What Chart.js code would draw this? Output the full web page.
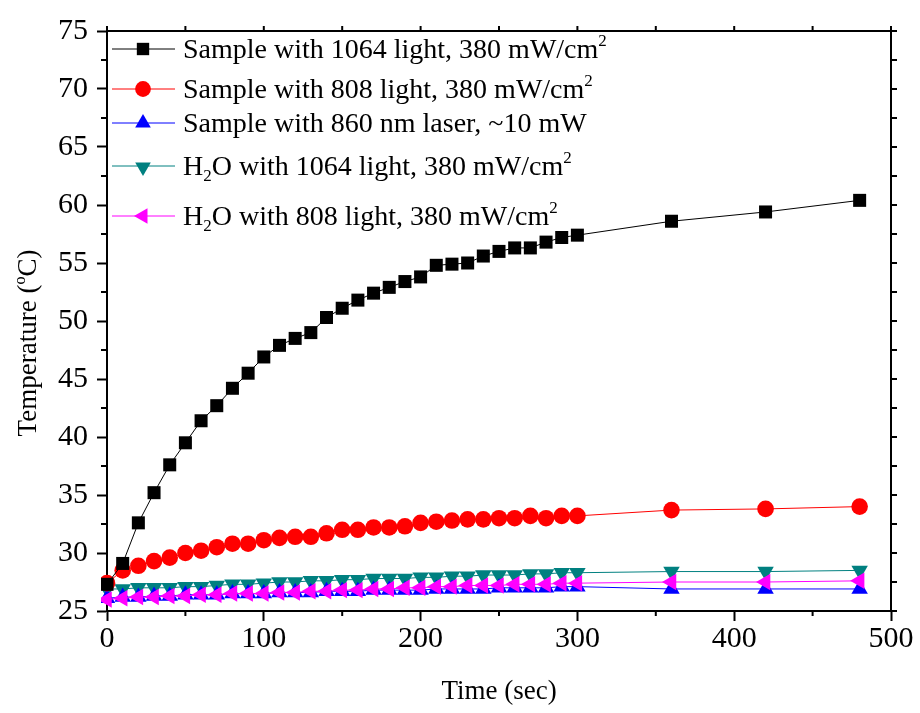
<!DOCTYPE html>
<html><head><meta charset="utf-8">
<script src="https://cdn.jsdelivr.net/npm/chart.js@4.4.1/dist/chart.umd.min.js"></script>
<style>html,body{margin:0;padding:0;background:#fff;}</style>
</head><body>
<canvas id="c" width="920" height="713" style="width:920px;height:713px;display:block"></canvas>
<script>
// ---- data ----
const times = [0,10,20,30,40,50,60,70,80,90,100,110,120,130,140,150,160,170,180,190,200,210,220,230,240,250,260,270,280,290,300,360,420,480];
const sample1064 = [27.3,29.1,32.6,35.2,37.6,39.5,41.4,42.7,44.2,45.5,46.9,47.9,48.5,49.0,50.3,51.1,51.8,52.4,52.9,53.4,53.8,54.8,54.9,55.0,55.6,56.0,56.3,56.3,56.8,57.2,57.4,58.6,59.4,60.4];
const sample808 = [27.4,28.5,28.9,29.3,29.6,30.0,30.2,30.5,30.8,30.8,31.1,31.3,31.4,31.4,31.7,32.0,32.0,32.2,32.2,32.3,32.6,32.7,32.8,32.9,32.9,33.0,33.0,33.2,33.0,33.2,33.2,33.7,33.8,34.0];
const sample860 = [26.1,26.2,26.2,26.3,26.3,26.4,26.4,26.4,26.5,26.5,26.5,26.6,26.6,26.6,26.7,26.7,26.7,26.8,26.8,26.8,26.8,26.9,26.9,26.9,26.9,27.0,27.0,27.0,27.0,27.1,27.1,26.9,26.9,26.9];
const water1064 = [26.9,26.9,27.0,27.0,27.0,27.1,27.1,27.2,27.3,27.3,27.4,27.5,27.5,27.6,27.6,27.7,27.7,27.8,27.8,27.8,27.9,27.9,28.0,28.0,28.1,28.1,28.1,28.2,28.2,28.3,28.3,28.4,28.4,28.5];
const water808 = [26.0,26.1,26.2,26.2,26.3,26.3,26.4,26.4,26.5,26.5,26.5,26.6,26.6,26.7,26.7,26.8,26.8,26.9,26.9,27.0,27.0,27.1,27.1,27.2,27.2,27.2,27.3,27.3,27.3,27.4,27.4,27.5,27.5,27.6];
const xTickLabels = ['0','100','200','300','400','500'];
const yTickLabels = ['25','30','35','40','45','50','55','60','65','70','75'];
const legendLabels = [
  [{t:'Sample with 1064 light, 380 mW/cm'},{t:'2',sup:true}],
  [{t:'Sample with 808 light, 380 mW/cm'},{t:'2',sup:true}],
  [{t:'Sample with 860 nm laser, ~10 mW'}],
  [{t:'H'},{t:'2',sub:true},{t:'O with 1064 light, 380 mW/cm'},{t:'2',sup:true}],
  [{t:'H'},{t:'2',sub:true},{t:'O with 808 light, 380 mW/cm'},{t:'2',sup:true}]
];
const xTitle = 'Time (sec)';
const yTitle = [{t:'Temperature ('},{t:'o',sup:true},{t:'C)'}];

const FONT = '"Liberation Serif","Times New Roman",serif';
const pts = arr => times.map((t,i)=>({x:t,y:arr[i]}));

function ds(label, arr, color, style, radius, rot, order){
  return {label, data: pts(arr), borderColor: color, backgroundColor: color,
    borderWidth: 1, pointStyle: style, pointRadius: radius, pointHoverRadius: radius,
    pointRotation: rot, pointBorderWidth: 0, showLine: true, tension: 0, order, clip: 6};
}
const datasets = [
  ds('s1064', sample1064, '#000000', 'rect', 9.2, 0, 0),
  ds('s808', sample808, '#ff0000', 'circle', 8.3, 0, 1),
  ds('s860', sample860, '#0000ff', 'triangle', 9.5, 0, 3),
  ds('w1064', water1064, '#008080', 'triangle', 9.5, 180, 4),
  ds('w808', water808, '#ff00ff', 'triangle', 9.5, 270, 2)
];

function richWidth(ctx, segs, size){
  let w=0;
  for(const s of segs){
    ctx.font = ((s.sup||s.sub)? Math.round(size*0.6) : size) + 'px ' + FONT;
    w += ctx.measureText(s.t).width;
  }
  return w;
}
function drawRich(ctx, segs, x, yMid, size){
  const base = yMid + size*0.33;
  ctx.textBaseline = 'alphabetic';
  ctx.textAlign = 'left';
  let cx = x;
  for(const s of segs){
    let fs = size, dy = 0;
    if(s.sup){ fs = Math.round(size*0.6); dy = -size*0.42; }
    if(s.sub){ fs = Math.round(size*0.6); dy = size*0.22; }
    ctx.font = fs + 'px ' + FONT;
    ctx.fillText(s.t, cx, base+dy);
    cx += ctx.measureText(s.t).width;
  }
}

const decor = {
  id:'decor',
  afterDraw(chart){
    const ctx = chart.ctx, a = chart.chartArea;
    const xs = chart.scales.x, ys = chart.scales.y;
    ctx.save();
    ctx.strokeStyle = '#000'; ctx.lineWidth = 2;
    // frame top/right
    ctx.beginPath();
    ctx.moveTo(a.left-1, a.top); ctx.lineTo(a.right, a.top); ctx.lineTo(a.right, a.bottom+1);
    ctx.stroke();
    // minor ticks bottom / top ticks
    ctx.beginPath();
    for(let v=50; v<500; v+=100){
      const px = xs.getPixelForValue(v);
      ctx.moveTo(px, a.bottom); ctx.lineTo(px, a.bottom+5);
    }
    for(let v=0; v<=500; v+=50){
      const px = xs.getPixelForValue(v);
      ctx.moveTo(px, a.top); ctx.lineTo(px, a.top-5);
    }
    for(let v=27.5; v<75; v+=5){
      const py = ys.getPixelForValue(v);
      ctx.moveTo(a.left, py); ctx.lineTo(a.left-6, py);
    }
    for(let v=25; v<=75; v+=2.5){
      const py = ys.getPixelForValue(v);
      ctx.moveTo(a.right, py); ctx.lineTo(a.right+6, py);
    }
    ctx.stroke();
    // legend
    const rows = [49, 89, 123, 166, 216];
    chart.data.datasets.forEach((d,k)=>{
      const y = rows[k];
      ctx.strokeStyle = d.borderColor; ctx.lineWidth = 1;
      ctx.beginPath(); ctx.moveTo(112, y); ctx.lineTo(175, y); ctx.stroke();
      ctx.fillStyle = d.backgroundColor;
      Chart.helpers.drawPoint(ctx, {pointStyle:d.pointStyle, rotation:d.pointRotation, radius:d.pointRadius*0.95, borderWidth:0}, 143, y + (d.pointRotation===180?1:0));
      ctx.fillStyle = '#000';
      drawRich(ctx, legendLabels[k], 183, y, 28);
    });
    // y title
    ctx.save();
    ctx.translate(27, 343);
    ctx.rotate(-Math.PI/2);
    ctx.fillStyle = '#000';
    const w = richWidth(ctx, yTitle, 27);
    drawRich(ctx, yTitle, -w/2, 0, 27);
    ctx.restore();
    ctx.restore();
  }
};

new Chart(document.getElementById('c'), {
  type:'scatter',
  data:{datasets},
  options:{
    responsive:false, animation:false, devicePixelRatio:1,
    layout:{padding:{left:0, top:31, right:29, bottom:0}},
    plugins:{legend:{display:false}, tooltip:{enabled:false}},
    scales:{
      x:{type:'linear', min:0, max:500,
        afterBuildTicks: s => { s.ticks = xTickLabels.map(v=>({value:+v})); },
        ticks:{color:'#000', font:{family:FONT, size:30}, padding:0, maxRotation:0,
          callback:(v)=>String(v)},
        grid:{drawOnChartArea:false, drawTicks:true, tickLength:10, tickWidth:2, tickColor:'#000'},
        border:{color:'#000', width:2},
        title:{display:true, text:xTitle, color:'#000', font:{family:FONT, size:27}, padding:{top:0,bottom:5}},
        afterFit: s => { s.height = 102; }
      },
      y:{type:'linear', min:25, max:75,
        afterBuildTicks: s => { s.ticks = yTickLabels.map(v=>({value:+v})); },
        ticks:{color:'#000', font:{family:FONT, size:30}, padding:9, callback:(v)=>String(v)},
        grid:{drawOnChartArea:false, drawTicks:true, tickLength:10, tickWidth:2, tickColor:'#000'},
        border:{color:'#000', width:2},
        afterFit: s => { s.width = 107; }
      }
    }
  },
  plugins:[decor]
});
</script>
</body></html>
